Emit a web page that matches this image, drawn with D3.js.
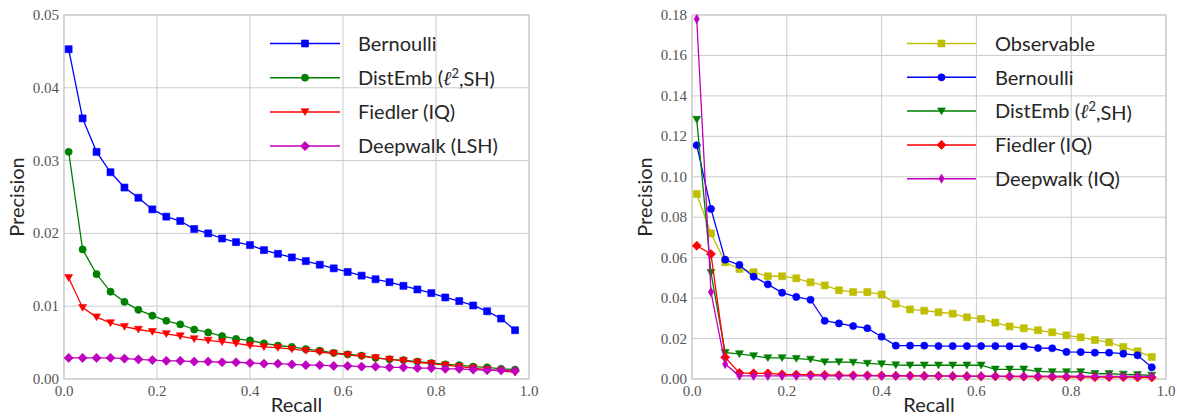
<!DOCTYPE html>
<html>
<head>
<meta charset="utf-8">
<script src="https://cdn.jsdelivr.net/npm/d3@7"></script>
<style>
  body { margin: 0; background: #fff; }
  svg { display: block; }
  .grid line { stroke: #cbcbcb; stroke-width: 1; }
  .tick-label { font-family: "Liberation Serif", serif; font-size: 15px; fill: #555; }
  .axis-label { font-family: "Lato", sans-serif; font-size: 20px; fill: #262626; }
  .legend-text { font-family: "Lato", sans-serif; font-size: 20px; fill: #262626; }
</style>
</head>
<body>
<script>
// recall values shared by every series
var recall = [0.01, 0.04, 0.07, 0.10, 0.13, 0.16, 0.19, 0.22, 0.25, 0.28, 0.31,
              0.34, 0.37, 0.40, 0.43, 0.46, 0.49, 0.52, 0.55, 0.58, 0.61, 0.64,
              0.67, 0.70, 0.73, 0.76, 0.79, 0.82, 0.85, 0.88, 0.91, 0.94, 0.97]

// left panel
var leftBernoulli = [0.0453, 0.0358, 0.0312, 0.0284, 0.0263, 0.0249, 0.0233, 0.0223, 0.0217, 0.0206, 0.0200,
                     0.0193, 0.0188, 0.0184, 0.0177, 0.0172, 0.0167, 0.0162, 0.0157, 0.0152, 0.0147, 0.0142,
                     0.0137, 0.0133, 0.0128, 0.0123, 0.0118, 0.0112, 0.0107, 0.0101, 0.0093, 0.0083, 0.0067]
var leftDistEmb = [0.0312, 0.0178, 0.0144, 0.0120, 0.0106, 0.0095, 0.0087, 0.0080, 0.0075, 0.0068, 0.0064,
                   0.0059, 0.0055, 0.0053, 0.0049, 0.0046, 0.0044, 0.0041, 0.0039, 0.0036, 0.0034, 0.0032,
                   0.0029, 0.0027, 0.0026, 0.0024, 0.0022, 0.0020, 0.0019, 0.0017, 0.0016, 0.0014, 0.0013]
var leftFiedler = [0.0139, 0.0098, 0.0085, 0.0077, 0.0072, 0.0068, 0.0065, 0.0062, 0.0059, 0.0055, 0.0053,
                   0.0051, 0.0049, 0.0046, 0.0044, 0.0043, 0.0041, 0.0039, 0.0037, 0.0035, 0.0033, 0.0031,
                   0.0029, 0.0027, 0.0025, 0.0023, 0.0021, 0.0019, 0.0017, 0.0015, 0.0013, 0.0011, 0.0009]
var leftDeepwalk = [0.0029, 0.0029, 0.0029, 0.0029, 0.0028, 0.0027, 0.0026, 0.0025, 0.0025, 0.0024, 0.0024,
                    0.0023, 0.0023, 0.0022, 0.0021, 0.0021, 0.0020, 0.0019, 0.0019, 0.0018, 0.0018, 0.0017,
                    0.0017, 0.0016, 0.0016, 0.0015, 0.0015, 0.0014, 0.0014, 0.0013, 0.0012, 0.0012, 0.0011]
var leftYTicks = [0.00, 0.01, 0.02, 0.03, 0.04, 0.05]

// right panel
var rightObservable = [0.0915, 0.0720, 0.0577, 0.0544, 0.0528, 0.0508, 0.0508, 0.0498, 0.0478, 0.0463, 0.0439,
                       0.0430, 0.0430, 0.0418, 0.0372, 0.0344, 0.0338, 0.0330, 0.0323, 0.0305, 0.0297, 0.0279,
                       0.0260, 0.0251, 0.0241, 0.0231, 0.0216, 0.0206, 0.0193, 0.0181, 0.0158, 0.0137, 0.0109]
var rightBernoulli = [0.1156, 0.0841, 0.0590, 0.0564, 0.0506, 0.0468, 0.0427, 0.0406, 0.0392, 0.0288, 0.0275,
                      0.0262, 0.0251, 0.0209, 0.0165, 0.0165, 0.0165, 0.0163, 0.0163, 0.0163, 0.0163, 0.0163,
                      0.0162, 0.0162, 0.0153, 0.0152, 0.0134, 0.0133, 0.0130, 0.0130, 0.0125, 0.0117, 0.0058]
var rightDistEmb = [0.1283, 0.0526, 0.0130, 0.0124, 0.0114, 0.0104, 0.0104, 0.0101, 0.0097, 0.0084, 0.0084,
                    0.0082, 0.0077, 0.0074, 0.0069, 0.0068, 0.0068, 0.0068, 0.0068, 0.0068, 0.0068, 0.0048,
                    0.0048, 0.0048, 0.0038, 0.0035, 0.0035, 0.0035, 0.0026, 0.0026, 0.0023, 0.0021, 0.0018]
var rightFiedler = [0.0659, 0.0618, 0.0107, 0.0030, 0.0028, 0.0028, 0.0023, 0.0022, 0.0021, 0.0020, 0.0019,
                    0.0018, 0.0018, 0.0017, 0.0016, 0.0016, 0.0015, 0.0015, 0.0014, 0.0014, 0.0013, 0.0013,
                    0.0012, 0.0012, 0.0011, 0.0011, 0.0010, 0.0010, 0.0009, 0.0009, 0.0009, 0.0008, 0.0008]
var rightDeepwalk = [0.1780, 0.0430, 0.0074, 0.0016, 0.0015, 0.0015, 0.0015, 0.0015, 0.0015, 0.0015, 0.0015,
                     0.0015, 0.0015, 0.0015, 0.0015, 0.0015, 0.0015, 0.0015, 0.0014, 0.0014, 0.0014, 0.0014,
                     0.0014, 0.0014, 0.0014, 0.0014, 0.0014, 0.0014, 0.0013, 0.0013, 0.0013, 0.0013, 0.0013]
var rightYTicks = [0.00, 0.02, 0.04, 0.06, 0.08, 0.10, 0.12, 0.14, 0.16, 0.18]

var xTicks = [0.0, 0.2, 0.4, 0.6, 0.8, 1.0]

// marker shapes (path strings centred on 0,0)
var markers = {
    square: function () { return "M-3.5,-3.5H3.5V3.5H-3.5Z" },
    circle: function () { return "M3.6,0A3.6,3.6 0 1,1 -3.6,0A3.6,3.6 0 1,1 3.6,0Z" },
    triDown: function () { return "M-4,-3.2L4,-3.2L0,3.6Z" },
    diamond: function () { return "M0,-4.6L4.6,0L0,4.6L-4.6,0Z" },
    thinDiamond: function () { return "M0,-4.6L2.7,0L0,4.6L-2.7,0Z" }
}

var W = 1177, H = 418

var svg = d3.select("body")
    .append("svg")
    .attr("width", W)
    .attr("height", H)

function drawPanel(p) {
    var x = d3.scaleLinear().domain([0, 1]).range([p.left, p.right])
    var y = d3.scaleLinear().domain([0, p.yMax]).range([p.bottom, p.top])

    var g = svg.append("g")

    var grid = g.append("g").attr("class", "grid")
    grid.selectAll("line.v")
        .data(xTicks)
        .enter()
        .append("line")
            .attr("x1", function (d) { return x(d) })
            .attr("x2", function (d) { return x(d) })
            .attr("y1", p.top)
            .attr("y2", p.bottom)
    grid.selectAll("line.h")
        .data(p.yTicks)
        .enter()
        .append("line")
            .attr("x1", p.left)
            .attr("x2", p.right)
            .attr("y1", function (d) { return y(d) })
            .attr("y2", function (d) { return y(d) })

    // frame
    g.append("rect")
        .attr("x", p.left)
        .attr("y", p.top)
        .attr("width", p.right - p.left)
        .attr("height", p.bottom - p.top)
        .attr("fill", "none")
        .attr("stroke", "#cbcbcb")
        .attr("stroke-width", 1.2)

    // tick labels
    g.selectAll("text.yt")
        .data(p.yTicks)
        .enter()
        .append("text")
            .attr("class", "tick-label")
            .attr("x", p.left - 5)
            .attr("y", function (d) { return y(d) })
            .attr("dy", "0.33em")
            .attr("text-anchor", "end")
            .text(function (d) { return d3.format(".2f")(d) })
    g.selectAll("text.xt")
        .data(xTicks)
        .enter()
        .append("text")
            .attr("class", "tick-label")
            .attr("x", function (d) { return x(d) })
            .attr("y", p.bottom + 17)
            .attr("text-anchor", "middle")
            .text(function (d) { return d3.format(".1f")(d) })

    // axis labels
    g.append("text")
        .attr("class", "axis-label")
        .attr("transform", "translate(" + p.yLabelX + "," + ((p.top + p.bottom) / 2) + ") rotate(-90)")
        .attr("text-anchor", "middle")
        .attr("dy", "0.35em")
        .text("Precision")
    g.append("text")
        .attr("class", "axis-label")
        .attr("x", (p.left + p.right) / 2)
        .attr("y", 412)
        .attr("text-anchor", "middle")
        .text("Recall")

    var line = d3.line()
        .x(function (d) { return x(d[0]) })
        .y(function (d) { return y(d[1]) })

    p.series.forEach(function (s) {
        var pts = recall.map(function (r, i) { return [r, s.values[i]] })
        g.append("path")
            .datum(pts)
            .attr("fill", "none")
            .attr("stroke", s.color)
            .attr("stroke-width", 1.3)
            .attr("d", line)
        g.selectAll(null)
            .data(pts)
            .enter()
            .append("path")
                .attr("d", markers[s.marker]())
                .attr("transform", function (d) { return "translate(" + x(d[0]) + "," + y(d[1]) + ")" })
                .attr("fill", s.color)
                .attr("stroke", s.color)
                .attr("stroke-width", 0.6)
    })

    // legend
    var leg = g.append("g")
    p.series.forEach(function (s, i) {
        var ly = p.legendY + i * p.legendStep
        leg.append("line")
            .attr("x1", p.legendX)
            .attr("x2", p.legendX + p.legendLen)
            .attr("y1", ly)
            .attr("y2", ly)
            .attr("stroke", s.color)
            .attr("stroke-width", 1.5)
        leg.append("path")
            .attr("d", markers[s.marker]())
            .attr("transform", "translate(" + (p.legendX + p.legendLen / 2) + "," + ly + ")")
            .attr("fill", s.color)
            .attr("stroke", s.color)
            .attr("stroke-width", 0.6)
        var t = leg.append("text")
            .attr("class", "legend-text")
            .attr("x", p.legendTextX)
            .attr("y", ly)
            .attr("dy", "0.36em")
        if (s.label.indexOf("l2") >= 0) {
            t.append("tspan").text("DistEmb (")
            t.append("tspan").attr("font-family", "Liberation Serif").attr("font-style", "italic").text("ℓ")
            t.append("tspan").attr("font-size", "13px").attr("dy", "-0.55em").text("2")
            t.append("tspan").attr("dy", "0.42em").text(",SH)")
        } else {
            t.text(s.label)
        }
    })
}

drawPanel({
    left: 64, right: 529, top: 15, bottom: 379,
    yMax: 0.05, yTicks: leftYTicks, yLabelX: 17,
    legendX: 270, legendLen: 70, legendTextX: 358, legendY: 43.5, legendStep: 34.2,
    series: [
        { label: "Bernoulli", values: leftBernoulli, color: "#0000ff", marker: "square" },
        { label: "DistEmb (l2,SH)", values: leftDistEmb, color: "#008000", marker: "circle" },
        { label: "Fiedler (IQ)", values: leftFiedler, color: "#ff0000", marker: "triDown" },
        { label: "Deepwalk (LSH)", values: leftDeepwalk, color: "#bf00bf", marker: "diamond" }
    ]
})

drawPanel({
    left: 692, right: 1166, top: 15, bottom: 379,
    yMax: 0.18, yTicks: rightYTicks, yLabelX: 645,
    legendX: 907, legendLen: 69, legendTextX: 995, legendY: 43.5, legendStep: 33.8,
    series: [
        { label: "Observable", values: rightObservable, color: "#bfbf00", marker: "square" },
        { label: "Bernoulli", values: rightBernoulli, color: "#0000ff", marker: "circle" },
        { label: "DistEmb (l2,SH)", values: rightDistEmb, color: "#008000", marker: "triDown" },
        { label: "Fiedler (IQ)", values: rightFiedler, color: "#ff0000", marker: "diamond" },
        { label: "Deepwalk (IQ)", values: rightDeepwalk, color: "#bf00bf", marker: "thinDiamond" }
    ]
})
</script>
</body>
</html>
